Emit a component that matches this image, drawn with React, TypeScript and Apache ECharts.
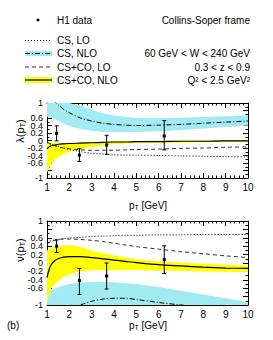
import React, { useEffect, useRef } from 'react';
import * as echarts from 'echarts';

const FONT = 'Liberation Sans';

// common pT grid for theory curves
const PT = [1, 1.1, 1.2, 1.35, 1.5, 1.75, 2, 2.5, 3, 3.5, 4, 4.5, 5, 6, 7, 8, 9, 10];

// ---- lambda(pT) ----
const lamCsLo = [-0.05, -0.07, -0.1, -0.13, -0.16, -0.2, -0.24, -0.3, -0.34, -0.36, -0.38, -0.39, -0.39, -0.4, -0.41, -0.42, -0.43, -0.44];
const lamCsNlo = [1.3, 1.2, 1.12, 1.03, 0.95, 0.83, 0.74, 0.6, 0.52, 0.46, 0.43, 0.41, 0.4, 0.41, 0.43, 0.46, 0.49, 0.52];
const lamCsNloHi = [1.5, 1.45, 1.4, 1.33, 1.25, 1.15, 1.05, 0.93, 0.82, 0.73, 0.67, 0.63, 0.6, 0.6, 0.61, 0.63, 0.65, 0.67];
const lamCsNloLo = [0.64, 0.62, 0.6, 0.57, 0.53, 0.45, 0.39, 0.31, 0.26, 0.23, 0.22, 0.22, 0.23, 0.25, 0.28, 0.32, 0.36, 0.4];
const lamCoLo = [-0.06, -0.08, -0.11, -0.14, -0.17, -0.2, -0.22, -0.25, -0.26, -0.26, -0.26, -0.25, -0.24, -0.23, -0.21, -0.2, -0.18, -0.17];
const lamCoNlo = [-0.22, -0.17, -0.14, -0.12, -0.1, -0.09, -0.08, -0.07, -0.06, -0.05, -0.04, -0.04, -0.03, -0.03, -0.02, -0.02, -0.01, -0.01];
const lamCoNloHi = [-0.03, -0.04, -0.05, -0.06, -0.07, -0.07, -0.06, -0.05, -0.04, -0.03, -0.02, -0.02, -0.01, 0.0, 0.0, 0.01, 0.01, 0.02];
const lamCoNloLo = [-0.85, -0.72, -0.62, -0.52, -0.44, -0.36, -0.3, -0.22, -0.17, -0.13, -0.1, -0.08, -0.07, -0.06, -0.05, -0.04, -0.04, -0.03];

// ---- nu(pT) ----
const nuCsLo = [0.5, 0.52, 0.53, 0.55, 0.56, 0.58, 0.59, 0.61, 0.63, 0.64, 0.65, 0.66, 0.66, 0.67, 0.67, 0.68, 0.68, 0.68];
const nuCsNlo = [-1.5, -1.45, -1.4, -1.33, -1.27, -1.2, -1.13, -1.0, -0.91, -0.86, -0.84, -0.84, -0.87, -0.94, -1.0, -1.05, -1.1, -1.15];
const nuCsNloHi = [-0.72, -0.69, -0.66, -0.62, -0.58, -0.53, -0.5, -0.47, -0.45, -0.45, -0.46, -0.48, -0.5, -0.57, -0.66, -0.75, -0.84, -0.93];
const nuCsNloLo = [-1.4, -1.4, -1.4, -1.4, -1.4, -1.4, -1.4, -1.4, -1.4, -1.4, -1.4, -1.4, -1.4, -1.4, -1.4, -1.4, -1.4, -1.4];
const nuCoLo = [0.45, 0.49, 0.52, 0.54, 0.56, 0.57, 0.57, 0.56, 0.54, 0.51, 0.47, 0.43, 0.39, 0.33, 0.27, 0.22, 0.17, 0.13];
const nuCoNlo = [-0.35, -0.15, -0.03, 0.06, 0.1, 0.14, 0.15, 0.15, 0.13, 0.1, 0.07, 0.04, 0.01, -0.04, -0.07, -0.1, -0.12, -0.13];
const nuCoNloHi = [0.3, 0.33, 0.36, 0.38, 0.4, 0.42, 0.43, 0.38, 0.3, 0.23, 0.18, 0.13, 0.09, 0.04, 0.01, -0.02, -0.04, -0.06];
const nuCoNloLo = [-0.95, -0.75, -0.6, -0.5, -0.43, -0.33, -0.26, -0.2, -0.17, -0.17, -0.17, -0.17, -0.17, -0.18, -0.19, -0.2, -0.21, -0.22];

// ---- H1 data ----
const dataPT = [1.43, 2.45, 3.67, 6.25];
const lamData = [0.19, -0.39, -0.12, 0.12];
const lamErrUp = [0.2, 0.17, 0.26, 0.41];
const lamErrDn = [0.2, 0.17, 0.25, 0.37];
const nuData = [0.4, -0.42, -0.31, 0.08];
const nuErrUp = [0.15, 0.29, 0.31, 0.33];
const nuErrDn = [0.15, 0.33, 0.31, 0.33];

const xTicks = [1, 10, 1]; // min, max, interval
const yTicks = [-1, 1, 0.2];

const CYAN = '#a3ebf3';
const YELLOW = '#ffff00';

function lineSeries(g: number, ys: number[], type: any, color = '#000', width = 1) {
  return {
    type: 'line', xAxisIndex: g * 2, yAxisIndex: g * 2,
    data: PT.map((x, i) => [x, ys[i]]),
    symbol: 'none', smooth: 0.3, clip: true, silent: true,
    lineStyle: { color, width, type },
    z: 3,
  };
}

function bandSeries(g: number, lo: number[], hi: number[], color: string) {
  return {
    type: 'custom', xAxisIndex: g * 2, yAxisIndex: g * 2, z: 1, silent: true,
    data: PT.map((x, i) => [x, lo[i], hi[i]]),
    renderItem: (params: any, api: any) => {
      if (params.dataIndex !== 0) return null;
      const pts: number[][] = [];
      for (let i = 0; i < PT.length; i++) pts.push(api.coord([PT[i], hi[i]]));
      for (let i = PT.length - 1; i >= 0; i--) pts.push(api.coord([PT[i], lo[i]]));
      const cs = params.coordSys;
      const rect = { x: cs.x, y: cs.y, width: cs.width, height: cs.height };
      const clipped = echarts.graphic.clipPointsByRect(pts, rect);
      return { type: 'polygon', shape: { points: clipped }, style: { fill: color, stroke: 'none' } };
    },
  };
}

function dataSeries(g: number, ys: number[], up: number[], dn: number[]) {
  return {
    type: 'custom', xAxisIndex: g * 2, yAxisIndex: g * 2, z: 5, silent: true,
    data: dataPT.map((x, i) => [x, ys[i], up[i], dn[i]]),
    renderItem: (params: any, api: any) => {
      const x = api.value(0), y = api.value(1), u = api.value(2), d = api.value(3);
      const c = api.coord([x, y]);
      const t = api.coord([x, y + u]);
      const b = api.coord([x, y - d]);
      const st = { stroke: '#000', lineWidth: 1 };
      return {
        type: 'group',
        children: [
          { type: 'line', shape: { x1: c[0], y1: t[1], x2: c[0], y2: b[1] }, style: st },
          { type: 'line', shape: { x1: c[0] - 2, y1: t[1], x2: c[0] + 2, y2: t[1] }, style: st },
          { type: 'line', shape: { x1: c[0] - 2, y1: b[1], x2: c[0] + 2, y2: b[1] }, style: st },
          { type: 'rect', shape: { x: c[0] - 1.5, y: c[1] - 1.5, width: 3, height: 3 }, style: { fill: '#000' } },
        ],
      };
    },
  };
}

function axesFor(g: number) {
  const line = { show: true, onZero: false, lineStyle: { color: '#000', width: 1 } };
  const xBase = {
    gridIndex: g, type: 'value', min: xTicks[0], max: xTicks[1], interval: xTicks[2],
    axisLine: line, splitLine: { show: false },
    axisTick: { show: true, inside: true, length: 5, lineStyle: { color: '#000' } },
    minorTick: { show: true, splitNumber: 5, length: 2.5, lineStyle: { color: '#000' } },
  };
  const yBase = {
    gridIndex: g, type: 'value', min: yTicks[0], max: yTicks[1], interval: yTicks[2],
    axisLine: line, splitLine: { show: false },
    axisTick: { show: true, inside: true, length: 5, lineStyle: { color: '#000' } },
    minorTick: { show: true, splitNumber: 2, length: 2.5, lineStyle: { color: '#000' } },
  };
  return {
    x: [
      { ...xBase, position: 'bottom', axisLabel: { show: true, color: '#000', fontSize: 10, fontFamily: FONT, margin: 4, showMinLabel: true, showMaxLabel: true } },
      { ...xBase, position: 'top', axisLabel: { show: false } },
    ],
    y: [
      { ...yBase, position: 'left', axisLabel: { show: true, color: '#000', fontSize: 9, lineHeight: 8, fontFamily: FONT, margin: 4, showMinLabel: true, showMaxLabel: true } },
      { ...yBase, position: 'right', axisLabel: { show: false } },
    ],
  };
}

const rich = {
  a: { fontSize: 10, fontFamily: FONT, fill: '#000', lineHeight: 12 },
  s: { fontSize: 7, fontFamily: FONT, fill: '#000', lineHeight: 8, verticalAlign: 'bottom', padding: [3, 0, 0, 0] },
  b: { fontSize: 11, fontFamily: FONT, fill: '#000', lineHeight: 13 },
  t: { fontSize: 7.5, fontFamily: FONT, fill: '#000', lineHeight: 8, verticalAlign: 'bottom', padding: [3, 0, 0, 0] },
};

function txt(x: number, y: number, text: string, align = 'left', extra: any = {}) {
  return {
    type: 'text', x, y, silent: true,
    style: { text, fill: '#000', fontSize: 10, fontFamily: FONT, align, verticalAlign: 'middle', ...extra },
  };
}

export default function App() {
  const ref = useRef<HTMLDivElement>(null);
  useEffect(() => {
    if (!ref.current) return;
    const chart = echarts.init(ref.current, undefined, { renderer: 'svg' });
    const a0 = axesFor(0);
    const a1 = axesFor(1);
    const option: any = {
      animation: false,
      backgroundColor: '#fff',
      grid: [
        { left: 47, top: 103, width: 201, height: 75 },
        { left: 47, top: 221, width: 201, height: 84 },
      ],
      xAxis: [...a0.x, ...a1.x],
      yAxis: [...a0.y, ...a1.y],
      series: [
        bandSeries(0, lamCsNloLo, lamCsNloHi, CYAN),
        bandSeries(0, lamCoNloLo, lamCoNloHi, YELLOW),
        lineSeries(0, lamCsLo, [1, 2]),
        lineSeries(0, lamCsNlo, [5, 2, 1, 2]),
        lineSeries(0, lamCoLo, [4, 3], '#333'),
        lineSeries(0, lamCoNlo, 'solid', '#000', 1.2),
        dataSeries(0, lamData, lamErrUp, lamErrDn),
        bandSeries(1, nuCsNloLo, nuCsNloHi, CYAN),
        bandSeries(1, nuCoNloLo, nuCoNloHi, YELLOW),
        lineSeries(1, nuCsLo, [1, 2]),
        lineSeries(1, nuCsNlo, [5, 2, 1, 2]),
        lineSeries(1, nuCoLo, [4, 3], '#333'),
        lineSeries(1, nuCoNlo, 'solid', '#000', 1.2),
        dataSeries(1, nuData, nuErrUp, nuErrDn),
      ],
      graphic: [
        // header legend
        { type: 'circle', shape: { cx: 38, cy: 20, r: 1.5 }, style: { fill: '#000' }, silent: true },
        txt(57, 20, 'H1 data'),
        txt(250, 20, 'Collins-Soper frame', 'right'),
        { type: 'line', shape: { x1: 25, y1: 40.5, x2: 52, y2: 40.5 }, style: { stroke: '#000', lineWidth: 1, lineDash: [1, 2] }, silent: true },
        txt(57, 40.5, 'CS, LO'),
        { type: 'rect', shape: { x: 25, y: 51, width: 27, height: 5 }, style: { fill: CYAN }, silent: true },
        { type: 'line', shape: { x1: 25, y1: 53.5, x2: 52, y2: 53.5 }, style: { stroke: '#000', lineWidth: 1, lineDash: [5, 2, 1, 2] }, silent: true },
        txt(57, 53.5, 'CS, NLO'),
        { type: 'line', shape: { x1: 25, y1: 67, x2: 52, y2: 67 }, style: { stroke: '#333', lineWidth: 1, lineDash: [4, 3] }, silent: true },
        txt(57, 67, 'CS+CO, LO'),
        { type: 'rect', shape: { x: 25, y: 77, width: 27, height: 6 }, style: { fill: YELLOW }, silent: true },
        { type: 'line', shape: { x1: 25, y1: 80, x2: 52, y2: 80 }, style: { stroke: '#000', lineWidth: 1.2 }, silent: true },
        txt(57, 80, 'CS+CO, NLO'),
        txt(250, 53.5, '60 GeV < W < 240 GeV', 'right'),
        txt(250, 67, '0.3 < z < 0.9', 'right'),
        txt(250, 80, 'Q² < 2.5 GeV²', 'right'),
        // axis titles
        { type: 'text', x: 20, y: 131, rotation: Math.PI / 2, silent: true,
          style: { text: '{b|λ(p}{t|T}{b|)}', rich, align: 'center', verticalAlign: 'middle' } },
        { type: 'text', x: 20, y: 250, rotation: Math.PI / 2, silent: true,
          style: { text: '{b|ν(p}{t|T}{b|)}', rich, align: 'center', verticalAlign: 'middle' } },
        { type: 'text', x: 148, y: 205, silent: true,
          style: { text: '{a|p}{s|T}{a| [GeV]}', rich, align: 'center', verticalAlign: 'middle' } },
        { type: 'text', x: 148, y: 325, silent: true,
          style: { text: '{a|p}{s|T}{a| [GeV]}', rich, align: 'center', verticalAlign: 'middle' } },
        txt(7, 325, '(b)'),
      ],
    };
    chart.setOption(option);
    return () => chart.dispose();
  }, []);
  return (
    <div
      ref={ref}
      style={{ position: 'absolute', left: 0, top: 0, width: 273, height: 340, background: '#fff' }}
    />
  );
}
